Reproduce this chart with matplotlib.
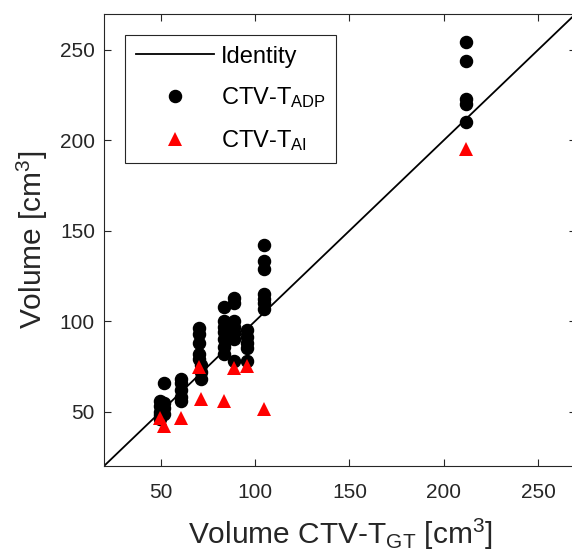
import matplotlib
matplotlib.use("Agg")
import matplotlib.pyplot as plt
import numpy as np

plt.rcParams['font.family'] = ['Liberation Sans', 'DejaVu Sans']
plt.rcParams['mathtext.fontset'] = 'custom'
plt.rcParams['mathtext.rm'] = 'Liberation Sans'
plt.rcParams['mathtext.it'] = 'Liberation Sans'
plt.rcParams['mathtext.default'] = 'rm'

# Ground-truth volumes (one per case)
gt = [49.5, 52, 61, 70.5, 71.5, 83.5, 89, 95.5, 105, 212]
# ADP volumes (several per case)
adp = [
    [56, 53, 50, 48, 46],
    [66, 55, 52, 49],
    [68, 66, 62, 58, 56],
    [96, 93, 88, 82, 79],
    [76, 72, 68],
    [108, 100, 97, 94, 90, 86, 82],
    [113, 110, 100, 97, 94, 90, 78],
    [95, 91, 88, 85, 78],
    [142, 133, 129, 115, 112, 110, 107],
    [254, 244, 223, 220, 210],
]
# AI volumes (one per case)
ai = [46.5, 42, 46.5, 74.5, 57, 56, 74, 75, 51.5, 195]

identity = [20, 270]

adp_x = [g for g, vals in zip(gt, adp) for _ in vals]
adp_y = [v for vals in adp for v in vals]

fig = plt.figure(figsize=(5.72, 5.57), dpi=100)
ax = fig.add_axes([104/572, 91/557, 472/572, 452.5/557])

ax.plot(identity, identity, color='black', lw=1.3, label='Identity')
ax.plot(adp_x, adp_y, 'o', color='black', ms=8.7, mec='black', label=r'CTV-T$_{\rm ADP}$')
ax.plot(gt, ai, '^', color='#ff0000', ms=10, mec='#ff0000', mew=0, label=r'CTV-T$_{\rm AI}$')

ax.set_xlim(20, 270)
ax.set_ylim(20, 270)
ax.set_xticks([50, 100, 150, 200, 250])
ax.set_yticks([50, 100, 150, 200, 250])
ax.tick_params(direction='in', top=True, right=True, labelsize=15, colors='#262626', length=5, width=0.8)
ax.tick_params(axis='x', pad=12)
ax.tick_params(axis='y', pad=6.5)
for s in ax.spines.values():
    s.set_color('#262626')
    s.set_linewidth(0.8)
ax.spines['right'].set_visible(False)

ax.set_xlabel(r'Volume CTV-T$_{\rm GT}$ [cm$^3$]', fontsize=21.5, color='#262626', labelpad=11)
ax.set_ylabel(r'Volume [cm$^3$]', fontsize=21.5, color='#262626', labelpad=7)

leg = ax.legend(loc='upper left', bbox_to_anchor=((125-104)/472, (466-35)/452.5),
                borderaxespad=0, fancybox=False, edgecolor='#262626', fontsize=17,
                handlelength=3.3, handletextpad=0.3, labelspacing=0.75, borderpad=0.45,
                framealpha=1)
leg.get_frame().set_linewidth(0.8)

fig.savefig('out.png', dpi=100)
